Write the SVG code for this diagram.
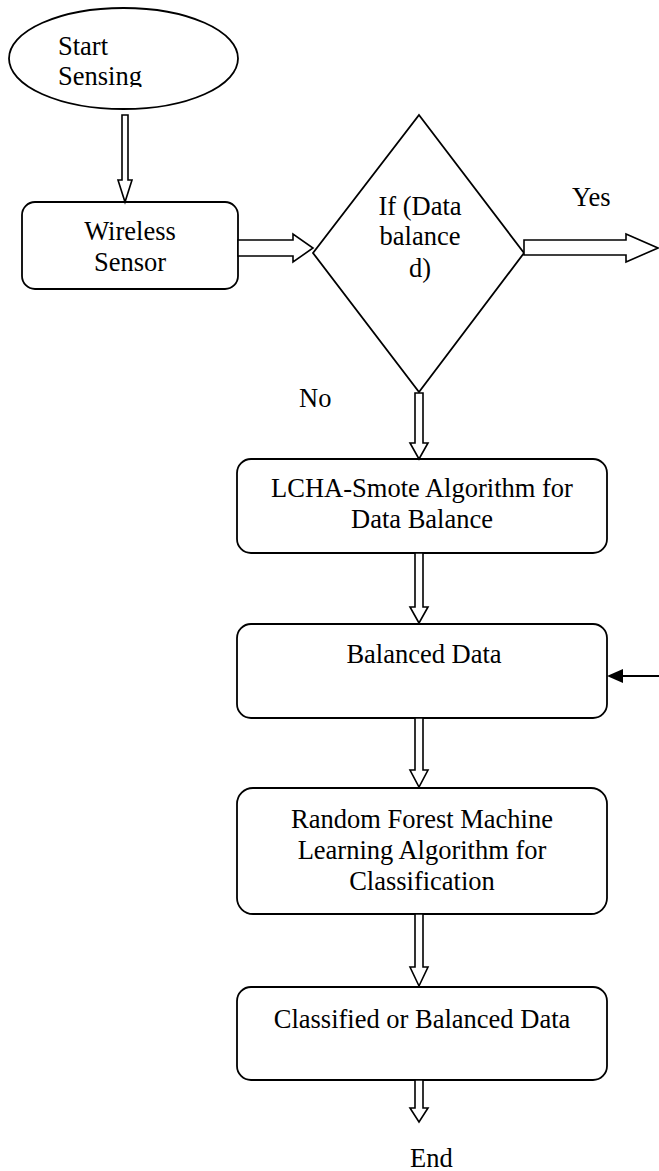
<svg xmlns="http://www.w3.org/2000/svg" width="659" height="1171" viewBox="0 0 659 1171">
<style>
.shape{fill:#fff;stroke:#000;stroke-width:1.8}
.arrow{fill:#fff;stroke:#000;stroke-width:1.6;stroke-linejoin:miter}
.t{font-family:"Liberation Serif","Times New Roman",serif;font-size:26.5px;fill:#000}
.c{text-anchor:middle}
</style>
<defs>
<clipPath id="startClip"><rect x="0" y="0" width="659" height="87"/></clipPath>
</defs>
<g id="start">
<ellipse class="shape" cx="123.5" cy="58.5" rx="114.5" ry="50.5"/>
<g clip-path="url(#startClip)">
<text class="t" x="58" y="55">Start</text>
<text class="t" x="58" y="85">Sensing</text>
</g>
</g>
<g id="wireless">
<rect class="shape" x="22" y="202" width="216" height="87" rx="13"/>
<text class="t c" x="130" y="240">Wireless</text>
<text class="t c" x="130" y="271">Sensor</text>
</g>
<g id="decision">
<polygon class="shape" points="419,115 524,253 419,392 313,253"/>
<text class="t c" x="420" y="215">If (Data</text>
<text class="t c" x="420" y="245">balance</text>
<text class="t c" x="420" y="277">d)</text>
</g>
<g id="lcha">
<rect class="shape" x="237" y="459" width="370" height="94" rx="14"/>
<text class="t c" x="422" y="497">LCHA-Smote Algorithm for</text>
<text class="t c" x="422" y="528">Data Balance</text>
</g>
<g id="balanced">
<rect class="shape" x="237" y="624" width="370" height="94" rx="14"/>
<text class="t c" x="424" y="663">Balanced Data</text>
</g>
<g id="rf">
<rect class="shape" x="237" y="788" width="370" height="126" rx="16"/>
<text class="t c" x="422" y="828">Random Forest Machine</text>
<text class="t c" x="422" y="859">Learning Algorithm for</text>
<text class="t c" x="422" y="890">Classification</text>
</g>
<g id="classified">
<rect class="shape" x="237" y="987" width="370" height="93" rx="14"/>
<text class="t c" x="422" y="1028">Classified or Balanced Data</text>
</g>
<g id="labels">
<text class="t" x="572" y="206">Yes</text>
<text class="t" x="299" y="407">No</text>
<text class="t" x="410" y="1167">End</text>
</g>
<g id="connectors">
<polygon class="arrow" points="122,115 128,115 128,180 132,180 125,202 118,180 122,180"/>
<polygon class="arrow" points="238,240 293,240 293,234 313,248 293,262 293,256 238,256"/>
<polygon class="arrow" points="524,240 626,240 626,234 658,248 626,262 626,255 524,255"/>
<polygon class="arrow" points="415,393 423,393 423,443 428,443 419,459 410,443 415,443"/>
<polygon class="arrow" points="415,553 423,553 423,607 428,607 419,623 410,607 415,607"/>
<polygon class="arrow" points="415,718 423,718 423,770 428,770 419,787 410,770 415,770"/>
<polygon class="arrow" points="415,914 423,914 423,967 428,967 419,986 410,967 415,967"/>
<polygon class="arrow" points="415,1080 423,1080 423,1108 428,1108 419,1122 410,1108 415,1108"/>
<line x1="659" y1="676" x2="620" y2="676" stroke="#000" stroke-width="2"/>
<polygon points="607,676 623,669 623,683" fill="#000"/>
</g>
</svg>
